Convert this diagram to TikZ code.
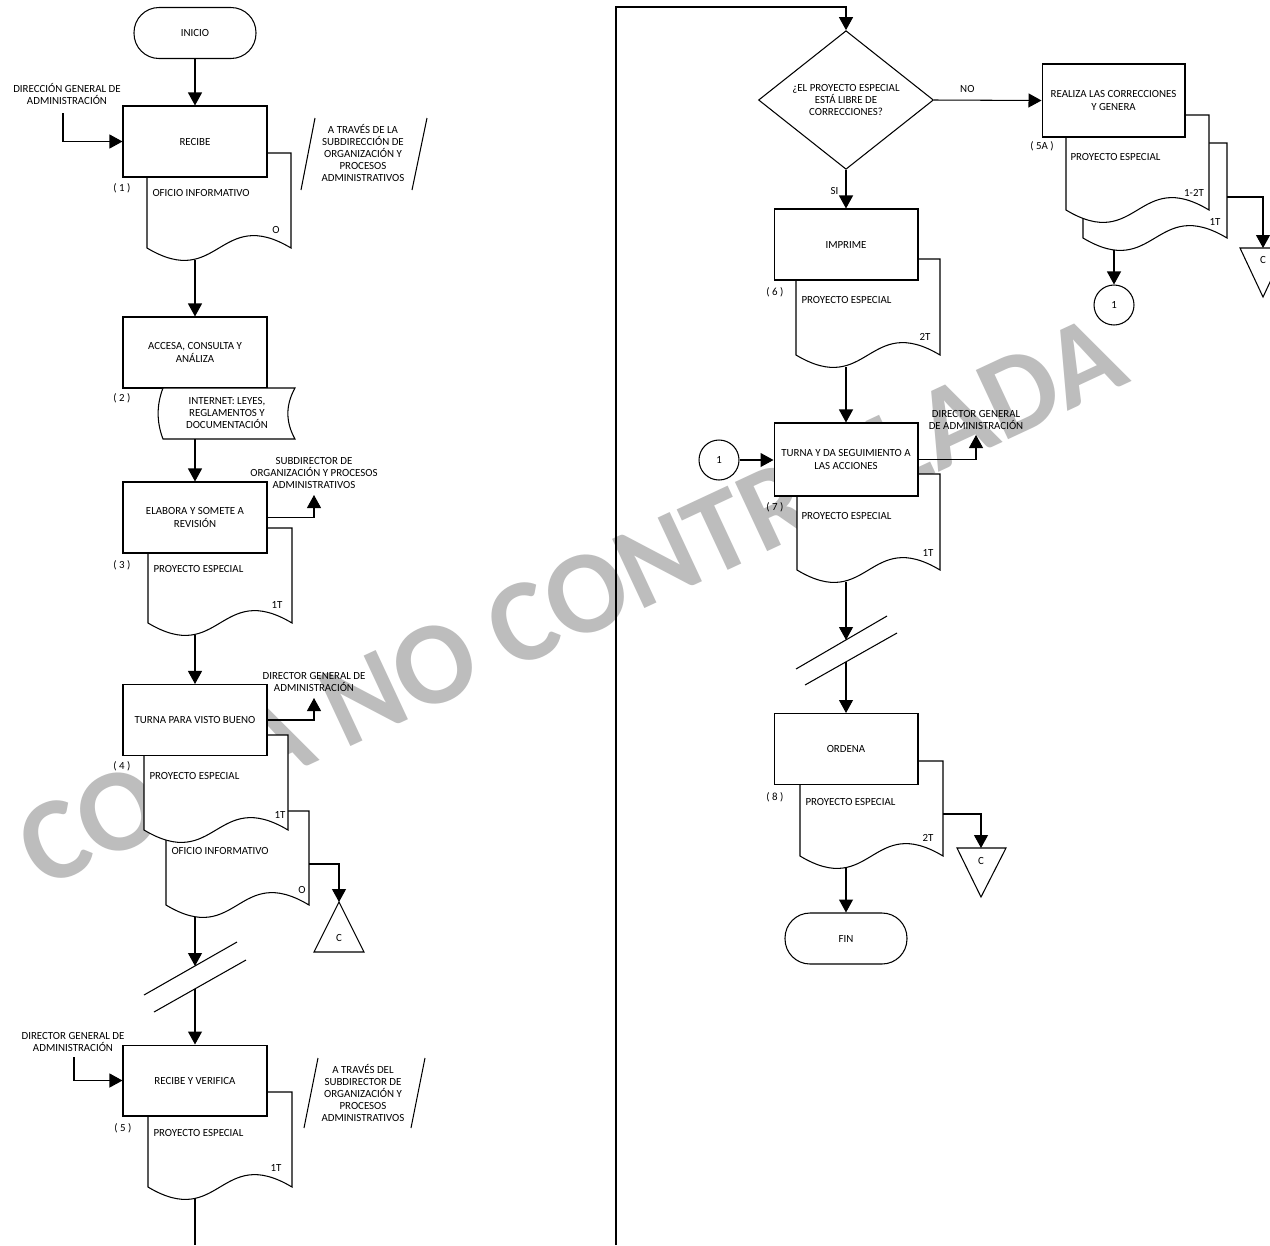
\documentclass[tikz,border=0pt]{standalone}
\usepackage{fontspec}
\setmainfont{Carlito}
\usetikzlibrary{arrows.meta, positioning, calc, shapes.geometric}

\newcommand\txt{\fontsize{6.2}{6.9}\selectfont}
% document symbol: name, left, top, right, bottom (wavy bottom edge)
\newcommand\docshape[5]{%
  \pgfmathsetmacro\dw{#4-#2}
  \draw[docfill] (#2,#3) -- (#4,#3) -- (#4,#5)
    .. controls ({#4-0.5*\dw},{#5-43}) and ({#2+0.5*\dw},{#5+43}) .. (#2,#5) -- cycle;
  \coordinate (#1) at ({#2+0.26*\dw},{#5+12});}

\begin{document}
\begin{tikzpicture}[x=0.02cm, y=-0.02cm, line width=0.6pt,
    proc/.style={draw, fill=white, minimum width=2.88cm, minimum height=1.42cm,
      inner sep=0pt, align=center, font=\txt},
    term/.style={draw, fill=white, rounded corners=0.5cm, minimum width=2.44cm,
      minimum height=1.02cm, font=\txt},
    decis/.style={diamond, draw, fill=white, minimum width=3.5cm,
      minimum height=2.2cm, inner sep=0pt, align=center, font=\txt},
    conn/.style={circle, draw, fill=white, minimum size=0.8cm, inner sep=0pt, font=\txt},
    docfill/.style={draw, fill=white},
    lbl/.style={font=\txt, align=center, inner sep=0pt},
    arw/.style={-{Triangle[length=0.26cm, width=0.28cm]}},
    wmark/.style={text=gray!52, font=\fontsize{67}{67}\selectfont\bfseries, inner sep=0pt}]
  \useasboundingbox (0,0) rectangle (1270,1245);
  \fill[white] (0,0) rectangle (1270,1245);
  \node[wmark, anchor=base west, rotate=25] (wm) at (42,890) {COPIA NO CONTROLADA};

  % ---- left column
  \node[term] (ini) at (195,33) {INICIO};
  \docshape{d1}{147}{153}{291}{248}
  \node[proc] (p1) at (195,141.5) {RECIBE};
  \node[lbl] (n1) at (122,188) {( 1 )};
  \node[lbl, anchor=west] (t1) at (152,193) {OFICIO INFORMATIVO};
  \node[lbl] (c1) at (276,230) {O};
  \node[lbl] (in1) at (67,94) {DIRECCIÓN GENERAL DE\\ADMINISTRACIÓN};
  \coordinate (in1s) at (63,113);
  \draw[arw] (in1s) |- (p1.west);
  \draw[arw] (ini) -- (p1);
  \node[lbl] (a1) at (363,153) {A TRAVÉS DE LA\\SUBDIRECCIÓN DE\\ORGANIZACIÓN Y\\PROCESOS\\ADMINISTRATIVOS};
  \draw (301,190) -- (315,118);
  \draw (412,190) -- (427,118);

  \node[proc] (p2) at (195,352.5) {ACCESA, CONSULTA Y\\ANÁLIZA};
  \draw[arw] (d1 -| p2) -- (p2);
  \draw[docfill] (163,388) -- (295,388) .. controls (285.5,405) and (285.5,422) .. (295,439)
    -- (163,439) .. controls (156.5,422) and (156.5,405) .. (163,388);
  \coordinate (d2) at (195,439);
  \node[lbl] (n2) at (122,398) {( 2 )};
  \node[lbl] (t2) at (227,413) {INTERNET: LEYES,\\REGLAMENTOS Y\\DOCUMENTACIÓN};

  \docshape{d3}{148}{528}{292}{623}
  \node[proc] (p3) at (195,517.5) {ELABORA Y SOMETE A\\REVISIÓN};
  \draw[arw] (d2) -- (p3);
  \node[lbl] (n3) at (122,565) {( 3 )};
  \node[lbl, anchor=west] (t3) at (153,569) {PROYECTO ESPECIAL};
  \node[lbl] (c3) at (277,605) {1T};
  \coordinate (o3) at (314,495);
  \draw[arw] (p3.east) -| (o3);
  \node[lbl] (o3l) at (314,473) {SUBDIRECTOR DE\\ORGANIZACIÓN Y PROCESOS\\ADMINISTRATIVOS};

  \docshape{d4b}{166}{811}{309}{905}
  \docshape{d4a}{144}{735}{288}{830}
  \node[proc] (p4) at (195,720) {TURNA PARA VISTO BUENO};
  \draw[arw] (d3 -| p4) -- (p4);
  \node[lbl] (n4) at (122,766) {( 4 )};
  \node[lbl, anchor=west] (t4a) at (149,776) {PROYECTO ESPECIAL};
  \node[lbl] (c4a) at (280,815) {1T};
  \node[lbl, anchor=west] (t4b) at (171,851) {OFICIO INFORMATIVO};
  \node[lbl] (c4b) at (302,890) {O};
  \coordinate (o4) at (314,698);
  \draw[arw] (p4.east) -| (o4);
  \node[lbl] (o4l) at (314,682) {DIRECTOR GENERAL DE\\ADMINISTRACIÓN};
  \draw[docfill] (339,902) -- (364,952) -- (314,952) -- cycle;
  \coordinate (k4) at (339,902);
  \node[lbl] (k4t) at (339,938) {C};
  \coordinate (d4e) at (309,864);
  \draw[arw] (d4e) -| (k4);

  % off-page break
  \coordinate (b1) at (195,966);
  \coordinate (b2) at (195,989);
  \draw[arw] (d4b -| p4) -- (b1);
  \draw (144,995) -- (237,942);
  \draw (154,1012) -- (246,960);

  \docshape{d5}{148}{1092}{292}{1187}
  \node[proc] (p5) at (195,1080.5) {RECIBE Y VERIFICA};
  \draw[arw] (b2) -- (p5);
  \node[lbl] (n5) at (123,1128) {( 5 )};
  \node[lbl, anchor=west] (t5) at (153,1133) {PROYECTO ESPECIAL};
  \node[lbl] (c5) at (276,1168) {1T};
  \node[lbl] (in5) at (73,1042) {DIRECTOR GENERAL DE\\ADMINISTRACIÓN};
  \coordinate (in5s) at (74,1057);
  \draw[arw] (in5s) |- (p5.west);
  \node[lbl] (a5) at (363,1093) {A TRAVÉS DEL\\SUBDIRECTOR DE\\ORGANIZACIÓN Y\\PROCESOS\\ADMINISTRATIVOS};
  \draw (304,1128) -- (318,1058);
  \draw (411,1128) -- (425,1058);
  \coordinate (e5) at (195,1245);
  \draw (d5 -| p5) -- (e5);

  % ---- right column
  \node[decis] (q) at (846,100) {¿EL PROYECTO ESPECIAL\\ESTÁ LIBRE DE\\CORRECCIONES?};
  \coordinate (m0) at (616,1245);
  \coordinate (m1) at (616,7);
  \draw[arw] (m0) -- (m1) -| (q.north);

  \docshape{d5ab}{1083}{143}{1227}{238}
  \docshape{d5aa}{1066}{115}{1209}{210}
  \node[proc, minimum width=2.86cm, minimum height=1.46cm] (p5a) at (1113.5,100.5) {REALIZA LAS CORRECCIONES\\Y GENERA};
  \draw[arw] (q.east) -- node[lbl, above=4pt, pos=0.31] {NO} (p5a.west);
  \node[lbl] (n5a) at (1042,146) {( 5A )};
  \node[lbl, anchor=west] (t5a) at (1070,157) {PROYECTO ESPECIAL};
  \node[lbl] (c5aa) at (1194,193) {1-2T};
  \node[lbl] (c5ab) at (1215,222) {1T};
  \draw[docfill] (1240,248) -- (1286,248) -- (1263,297) -- cycle;
  \coordinate (k5a) at (1263,248);
  \node[lbl] (k5at) at (1263,260) {C};
  \coordinate (d5ae) at (1227,197);
  \draw[arw] (d5ae) -| (k5a);
  \node[conn] (c5x) at (1114,305) {1};
  \draw[arw] (d5ab -| c5x) -- (c5x);

  \docshape{d6}{796}{259}{940}{355}
  \node[proc] (p6) at (846,244.5) {IMPRIME};
  \draw[arw] (q.south) -- node[lbl, left=4pt, pos=0.55] {SI} (p6.north);
  \node[lbl] (n6) at (775,292) {( 6 )};
  \node[lbl, anchor=west] (t6) at (801,300) {PROYECTO ESPECIAL};
  \node[lbl] (c6) at (925,337) {2T};

  \docshape{d7}{797}{474}{940}{570}
  \node[proc, minimum height=1.46cm] (p7) at (846,459.5) {TURNA Y DA SEGUIMIENTO A\\LAS ACCIONES};
  \draw[arw] (d6 -| p7) -- (p7);
  \node[conn] (c7) at (719,460) {1};
  \draw[arw] (c7.east) -- (c7.east -| p7.west);
  \coordinate (o7) at (976,435);
  \draw[arw] (p7.east) -| (o7);
  \node[lbl] (o7l) at (976,420) {DIRECTOR GENERAL\\DE ADMINISTRACIÓN};
  \node[lbl] (n7) at (775,507) {( 7 )};
  \node[lbl, anchor=west] (t7) at (801,516) {PROYECTO ESPECIAL};
  \node[lbl] (c7t) at (928,553) {1T};

  \coordinate (b7a) at (846,640);
  \coordinate (b7b) at (846,662);
  \draw[arw] (d7 -| p7) -- (b7a);
  \draw (796,669) -- (887,616);
  \draw (805,685) -- (897,633);

  \docshape{d8}{800}{761}{943}{856}
  \node[proc] (p8) at (846,749) {ORDENA};
  \draw[arw] (b7b) -- (p8);
  \node[lbl] (n8) at (775,797) {( 8 )};
  \node[lbl, anchor=west] (t8) at (805,802) {PROYECTO ESPECIAL};
  \node[lbl] (c8) at (928,838) {2T};
  \draw[docfill] (957,848) -- (1006,848) -- (981,897) -- cycle;
  \coordinate (k8) at (981,848);
  \node[lbl] (k8t) at (981,861) {C};
  \coordinate (d8e) at (943,814);
  \draw[arw] (d8e) -| (k8);
  \node[term] (fin) at (846,938.5) {FIN};
  \draw[arw] (d8 -| fin) -- (fin);
\end{tikzpicture}
\end{document}
